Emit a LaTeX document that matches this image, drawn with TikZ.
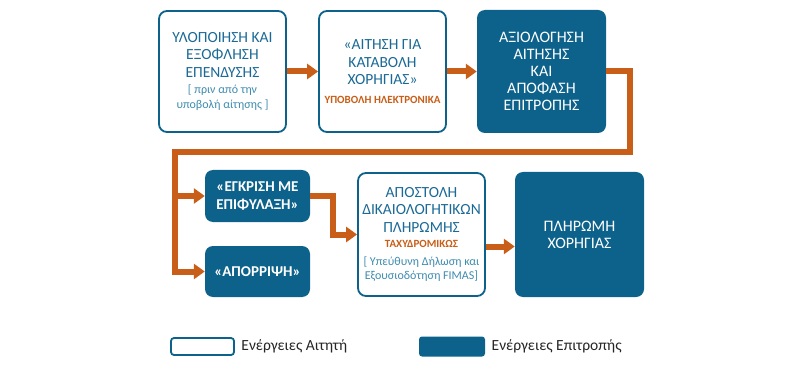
\documentclass[tikz,border=0pt]{standalone}
\usepackage{fontspec}
\setmainfont{Carlito}
\usetikzlibrary{arrows.meta, positioning}

\definecolor{epiblue}{RGB}{12,98,138}
\definecolor{epitext}{RGB}{27,106,150}
\definecolor{epinote}{RGB}{62,140,175}
\definecolor{epiorange}{RGB}{200,94,24}

\newcommand{\notel}[1]{{\fontsize{12}{14}\selectfont\color{epinote}#1}}
\newcommand{\howl}[1]{{\fontsize{11}{14}\selectfont\bfseries\color{epiorange}#1}}

\begin{document}
\begin{tikzpicture}[x=1pt, y=-1pt, >={Triangle[width=15pt,length=11pt]},
  applicant/.style={draw=epiblue, line width=1.8pt, fill=white, rounded corners=8pt,
    minimum width=127pt, minimum height=121pt, align=center, text=epitext,
    font=\fontsize{15.5}{17.5}\selectfont},
  committee/.style={fill=epiblue, rounded corners=8pt, minimum width=129pt,
    minimum height=123pt, align=center, text=white, font=\fontsize{16}{17}\selectfont},
  decision/.style={committee, minimum width=105pt, minimum height=52pt,
    font=\fontsize{15}{18}\selectfont\bfseries},
  flow/.style={->, draw=epiorange, line width=6pt},
  legtext/.style={font=\fontsize{15.5}{17}\selectfont, text=black!85}]
  \useasboundingbox (0,0) rectangle (800,390);

  % top row
  \node[applicant] (ylopoiisi) at (222.5,71.5)
    {ΥΛΟΠΟΙΗΣΗ ΚΑΙ\\ ΕΞΟΦΛΗΣΗ\\ ΕΠΕΝΔΥΣΗΣ\\[-1pt]
     \notel{[ πριν από την}\\[-3pt] \notel{υποβολή αίτησης ]}};
  \node[applicant] (aitisi) at (382.5,71.5)
    {«ΑΙΤΗΣΗ ΓΙΑ\\ ΚΑΤΑΒΟΛΗ\\ ΧΟΡΗΓΙΑΣ»\\[1pt] \howl{ΥΠΟΒΟΛΗ ΗΛΕΚΤΡΟΝΙΚΑ}};
  \node[committee] (axiologisi) at (541.5,71.5)
    {ΑΞΙΟΛΟΓΗΣΗ\\ ΑΙΤΗΣΗΣ\\ ΚΑΙ\\ ΑΠΟΦΑΣΗ\\ ΕΠΙΤΡΟΠΗΣ};

  % bottom row
  \node[decision] (egkrisi) at (257.5,196) {«ΕΓΚΡΙΣΗ ΜΕ\\ ΕΠΙΦΥΛΑΞΗ»};
  \node[decision, minimum height=51pt] (aporripsi) at (257.5,271.5) {«ΑΠΟΡΡΙΨΗ»};
  \node[applicant, minimum height=123pt] (apostoli) at (421.5,234.5)
    {ΑΠΟΣΤΟΛΗ\\ ΔΙΚΑΙΟΛΟΓΗΤΙΚΩΝ\\ ΠΛΗΡΩΜΗΣ\\[-2pt] \howl{ΤΑΧΥΔΡΟΜΙΚΩΣ}\\[0pt]
     \notel{[ Υπεύθυνη Δήλωση και}\\[-3pt] \notel{Εξουσιοδότηση FIMAS]}};
  \node[committee, minimum height=125pt] (pliromi) at (579.5,234.5)
    {ΠΛΗΡΩΜΗ\\ ΧΟΡΗΓΙΑΣ};

  % flow
  \draw[flow] (ylopoiisi) -- (aitisi);
  \draw[flow] (aitisi) -- (axiologisi);
  \coordinate (rail) at (175,152);
  \draw[flow] (axiologisi.east) -- ++(24,0) |- (rail) |- (aporripsi.west);
  \draw[flow] (rail |- egkrisi.west) -- (egkrisi.west);
  \draw[flow] (egkrisi.east) -- ++(23,0) |- (apostoli.west);
  \draw[flow] ([yshift=-12pt]apostoli.east) -- ([yshift=-12pt]pliromi.west);

  % legend
  \node[draw=epiblue, line width=1.8pt, fill=white, rounded corners=3pt,
    minimum width=63pt, minimum height=17pt] (legapp) at (202.5,346.5) {};
  \node[legtext, right=3pt of legapp] (legapptext) {Ενέργειες Αιτητή};
  \node[fill=epiblue, rounded corners=3pt, minimum width=66pt,
    minimum height=20pt] (legcom) at (452,346.5) {};
  \node[legtext, right=3pt of legcom] (legcomtext) {Ενέργειες Επιτροπής};
\end{tikzpicture}
\end{document}
